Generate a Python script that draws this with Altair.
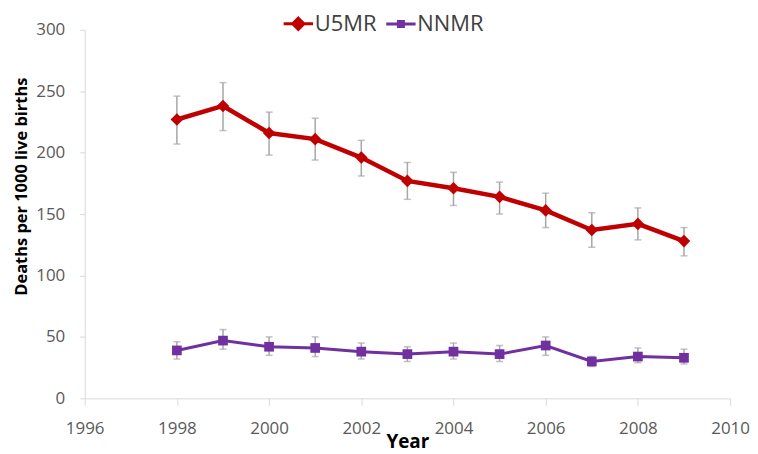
import altair as alt
import pandas as pd

years = list(range(1998, 2010))
u5mr = [227, 238, 216, 211, 196, 177, 171, 164, 153, 137, 142, 128]
u5mr_lo = [207, 218, 198, 194, 181, 162, 157, 150, 139, 123, 129, 116]
u5mr_hi = [246, 257, 233, 228, 210, 192, 184, 176, 167, 151, 155, 139]
nnmr = [39, 47, 42, 41, 38, 36, 38, 36, 43, 30, 34, 33]
nnmr_lo = [32, 40, 35, 34, 32, 30, 32, 30, 35, 26, 29, 28]
nnmr_hi = [46, 56, 50, 50, 45, 42, 45, 43, 50, 34, 41, 40]
series_names = ["U5MR", "NNMR"]
series_colors = ["#C00000", "#7030A0"]
x_ticks = [1996, 1998, 2000, 2002, 2004, 2006, 2008, 2010]
y_ticks = [0, 50, 100, 150, 200, 250, 300]

rows = []
for i, yr in enumerate(years):
    rows.append({"year": yr, "series": "U5MR", "value": u5mr[i], "lo": u5mr_lo[i], "hi": u5mr_hi[i]})
for i, yr in enumerate(years):
    rows.append({"year": yr, "series": "NNMR", "value": nnmr[i], "lo": nnmr_lo[i], "hi": nnmr_hi[i]})
df = pd.DataFrame(rows)

FONT = "Open Sans"
AX = "#D9D9D9"
YTITLE = "Deaths per 1000 live births"

x_axis = alt.Axis(values=x_ticks, format="d", grid=False, domainColor=AX, tickColor=AX,
                  tickSize=7, labelFont=FONT, labelFontSize=17, labelColor="#595959",
                  labelPadding=15, titleFont=FONT, titleFontSize=19, titleFontWeight="bold",
                  titleColor="#000000", titlePadding=-3.5, labelFlush=False)
y_axis = alt.Axis(values=y_ticks, grid=False, domainColor=AX, tickColor=AX, tickSize=5,
                  labelFont=FONT, labelFontSize=17, labelColor="#595959", labelPadding=15,
                  titleFont=FONT, titleFontSize=16.5, titleFontWeight="bold", titleColor="#000000",
                  titlePadding=6, titleY=157)

x_scale = alt.Scale(domain=[1996, 2010], nice=False, zero=False)
y_scale = alt.Scale(domain=[0, 300], nice=False)


def xe():
    return alt.X("year:Q", scale=x_scale, axis=x_axis, title="Year")


def ye(field):
    return alt.Y(f"{field}:Q", scale=y_scale, axis=y_axis, title=YTITLE)


color_scale = alt.Scale(domain=series_names, range=series_colors)
base = alt.Chart(df)

err = base.mark_rule(color="#A6A6A6", strokeWidth=1.5).encode(
    x=xe(), y=ye("lo"), y2="hi:Q")
cap_lo = base.mark_tick(orient="horizontal", size=7, thickness=1.5, color="#A6A6A6").encode(
    x=xe(), y=ye("lo"))
cap_hi = base.mark_tick(orient="horizontal", size=7, thickness=1.5, color="#A6A6A6").encode(
    x=xe(), y=ye("hi"))

lines = base.mark_line().encode(
    x=xe(), y=ye("value"),
    color=alt.Color("series:N", scale=color_scale, legend=None),
    strokeWidth=alt.StrokeWidth("series:N", scale=alt.Scale(domain=series_names, range=[4.5, 3]), legend=None),
)

points = base.mark_point(filled=True, opacity=1).encode(
    x=xe(), y=ye("value"),
    color=alt.Color("series:N", scale=color_scale, legend=None),
    shape=alt.Shape("series:N", scale=alt.Scale(domain=series_names, range=["diamond", "square"]), legend=None),
    size=alt.Size("series:N", scale=alt.Scale(domain=series_names, range=[160, 95]), legend=None),
)

path_diamond = "M-1,0L1,0M0,-0.38L0.38,0L0,0.38L-0.38,0Z"
path_square = "M-1,0L1,0M-0.17,-0.17L0.17,-0.17L0.17,0.17L-0.17,0.17Z"

leg = alt.Legend(title=None, orient="none", legendX=198, legendY=-23, direction="horizontal",
                 symbolSize=870, symbolStrokeWidth=3, symbolOpacity=1, labelFont=FONT,
                 labelFontSize=22, labelColor="#404040", labelOffset=0, columnPadding=3)

legend_layer = alt.Chart(df).transform_filter("false").mark_point(strokeWidth=3, opacity=1).encode(
    shape=alt.Shape("series:N", scale=alt.Scale(domain=series_names, range=[path_diamond, path_square]), legend=leg),
    fill=alt.Fill("series:N", scale=color_scale, legend=leg),
    stroke=alt.Stroke("series:N", scale=color_scale, legend=leg),
)

chart = alt.layer(err, cap_lo, cap_hi, lines, points, legend_layer).resolve_scale(
    shape="independent", fill="independent", stroke="independent"
).properties(
    width=648, height=370,
    autosize=alt.AutoSizeParams(type="none"),
    padding={"left": 77, "top": 21, "right": 20, "bottom": 55},
    background="white",
).configure_view(stroke=None)

chart.save("out.html", embed_options={"renderer": "svg", "actions": False})
